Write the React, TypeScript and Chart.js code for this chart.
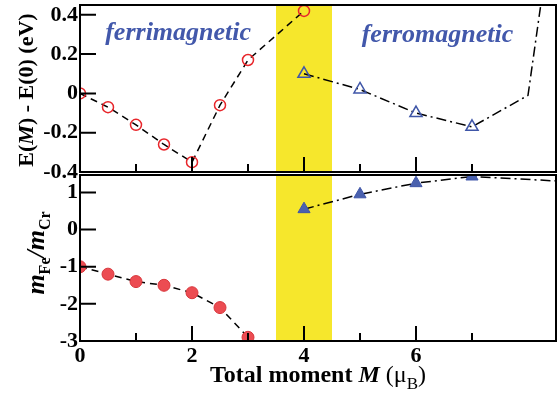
import React, { useEffect, useRef } from "react";
import { Chart, registerables } from "chart.js";

Chart.register(...registerables);

// ---- data ----
const momentFerriTop = [0, 0.5, 1, 1.5, 2, 2.5, 3, 4];
const energyFerri = [0, -0.07, -0.16, -0.26, -0.35, -0.06, 0.17, 0.42];
const momentFerroTop = [4, 5, 6, 7, 8, 8.5];
const energyFerro = [0.1, 0.02, -0.1, -0.17, -0.01, 1.0];
const ferroTopMarked = [true, true, true, true, false, false];

const momentFerriBot = [0, 0.5, 1, 1.5, 2, 2.5, 3];
const ratioFerri = [-1.0, -1.2, -1.4, -1.5, -1.7, -2.1, -2.9];
const momentFerroBot = [4, 5, 6, 7, 8.5];
const ratioFerro = [0.55, 0.95, 1.25, 1.43, 1.31];
const ferroBotMarked = [true, true, true, true, false];

const xMajorTicks = [0, 2, 4, 6];
const xMinorTicks = [1, 3, 5, 7];
const bandRange = [3.5, 4.5];
const phaseLabels = ["ferrimagnetic", "ferromagnetic"];

const FONT = '"Liberation Serif", "Times New Roman", serif';
const BAND = "#f6e72c";
const RED = "#e8262b";
const RED_FILL = "#ec4c52";
const BLUE = "#3f56a8";
const BLUE_FILL = "#4a61ae";
const TEXT_BLUE = "#4258ab";

function pts(xs: number[], ys: number[]) {
  return xs.map((x, i) => ({ x, y: ys[i] }));
}

function makeFramePlugin(cfg: {
  yMajor: (v: number) => boolean;
  labels?: { text: string; x: number; y: number }[];
}) {
  return {
    id: "frame",
    beforeDatasetsDraw(chart: any) {
      const { ctx, chartArea, scales } = chart;
      const x0 = scales.x.getPixelForValue(bandRange[0]);
      const x1 = scales.x.getPixelForValue(bandRange[1]);
      ctx.save();
      ctx.fillStyle = BAND;
      ctx.fillRect(x0, chartArea.top, x1 - x0, chartArea.bottom - chartArea.top);
      ctx.restore();
    },
    afterDatasetsDraw(chart: any) {
      const { ctx, chartArea, scales } = chart;
      const { left, right, top, bottom } = chartArea;
      ctx.save();
      ctx.strokeStyle = "#000";
      ctx.lineWidth = 2;
      ctx.beginPath();
      for (const t of scales.y.ticks) {
        const py = scales.y.getPixelForValue(t.value);
        const len = cfg.yMajor(t.value) ? 16 : 8;
        ctx.moveTo(left, py);
        ctx.lineTo(left + len, py);
      }
      for (const v of xMajorTicks) {
        const px = scales.x.getPixelForValue(v);
        ctx.moveTo(px, bottom);
        ctx.lineTo(px, bottom - 15);
      }
      for (const v of xMinorTicks) {
        const px = scales.x.getPixelForValue(v);
        ctx.moveTo(px, bottom);
        ctx.lineTo(px, bottom - 8);
      }
      ctx.stroke();
      ctx.strokeRect(left, top, right - left, bottom - top);
      if (cfg.labels) {
        ctx.fillStyle = TEXT_BLUE;
        ctx.font = `italic bold 26px ${FONT}`;
        ctx.textAlign = "left";
        ctx.textBaseline = "alphabetic";
        for (const l of cfg.labels) {
          ctx.fillText(l.text, scales.x.getPixelForValue(l.x), scales.y.getPixelForValue(l.y));
        }
      }
      ctx.restore();
    },
  };
}

const isMult = (v: number, step: number) => Math.abs(Math.round(v / step) * step - v) < 1e-6;

export default function App() {
  const topRef = useRef<HTMLCanvasElement>(null);
  const botRef = useRef<HTMLCanvasElement>(null);

  useEffect(() => {
    const xScaleBase = {
      type: "linear" as const,
      min: 0,
      max: 8.5,
      grid: { display: false, drawTicks: false },
      border: { display: false },
    };

    const topChart = new Chart(topRef.current!, {
      type: "scatter",
      data: {
        datasets: [
          {
            data: pts(momentFerriTop, energyFerri),
            showLine: true,
            borderColor: "#000",
            borderWidth: 1.5,
            borderDash: [7, 5],
            pointStyle: "circle",
            pointRadius: 5.5,
            pointBorderWidth: 1.5,
            pointBorderColor: RED,
            pointBackgroundColor: "rgba(0,0,0,0)",
          } as any,
          {
            data: pts(momentFerroTop, energyFerro),
            showLine: true,
            borderColor: "#000",
            borderWidth: 1.5,
            borderDash: [10, 4, 2, 4],
            pointStyle: "triangle",
            pointRadius: ferroTopMarked.map((m) => (m ? 7 : 0)),
            pointBorderWidth: 1.5,
            pointBorderColor: BLUE,
            pointBackgroundColor: "rgba(0,0,0,0)",
            clip: 0,
          } as any,
        ],
      },
      options: {
        animation: false,
        responsive: false,
        layout: { autoPadding: false, padding: { top: 5, bottom: 28, left: 0, right: 1 } },
        plugins: { legend: { display: false }, tooltip: { enabled: false } },
        scales: {
          x: { ...xScaleBase, display: false, ticks: { stepSize: 1 } },
          y: {
            type: "linear",
            min: -0.4,
            max: 0.45,
            grid: { display: false, drawTicks: false },
            border: { display: false },
            ticks: {
              stepSize: 0.1,
              includeBounds: false,
              padding: 2,
              color: "#000",
              font: { family: FONT, size: 22, weight: "bold" },
              callback: (v: any) => (isMult(Number(v), 0.2) ? String(Math.round(Number(v) * 10) / 10) : ""),
            },
            afterFit: (s: any) => {
              s.width = 80;
              s.paddingTop = 0;
              s.paddingBottom = 0;
            },
          },
        },
      } as any,
      plugins: [
        makeFramePlugin({
          yMajor: (v) => isMult(v, 0.2),
          labels: [
            { text: phaseLabels[0], x: 0.45, y: 0.27 },
            { text: phaseLabels[1], x: 5.03, y: 0.26 },
          ],
        }) as any,
      ],
    });

    const botChart = new Chart(botRef.current!, {
      type: "scatter",
      data: {
        datasets: [
          {
            data: pts(momentFerriBot, ratioFerri),
            showLine: true,
            borderColor: "#000",
            borderWidth: 1.5,
            borderDash: [7, 5],
            pointStyle: "circle",
            pointRadius: 6,
            pointBorderWidth: 1,
            pointBorderColor: "#d8363b",
            pointBackgroundColor: RED_FILL,
          } as any,
          {
            data: pts(momentFerroBot, ratioFerro),
            showLine: true,
            borderColor: "#000",
            borderWidth: 1.5,
            borderDash: [10, 4, 2, 4],
            pointStyle: "triangle",
            pointRadius: ferroBotMarked.map((m) => (m ? 7 : 0)),
            pointBorderWidth: 1,
            pointBorderColor: BLUE,
            pointBackgroundColor: BLUE_FILL,
          } as any,
        ],
      },
      options: {
        animation: false,
        responsive: false,
        layout: { autoPadding: false, padding: { top: 15, bottom: 0, left: 0, right: 1 } },
        plugins: { legend: { display: false }, tooltip: { enabled: false } },
        scales: {
          x: {
            ...xScaleBase,
            ticks: {
              stepSize: 1,
              includeBounds: false,
              padding: 2,
              maxRotation: 0,
              autoSkip: false,
              color: "#000",
              font: { family: FONT, size: 22, weight: "bold" },
              callback: (v: any) => (xMajorTicks.includes(Number(v)) ? String(v) : ""),
            },
            afterFit: (s: any) => {
              s.height = 53;
              s.paddingLeft = 0;
              s.paddingRight = 0;
            },
          },
          y: {
            type: "linear",
            min: -3,
            max: 1.47,
            grid: { display: false, drawTicks: false },
            border: { display: false },
            ticks: {
              stepSize: 0.5,
              includeBounds: false,
              padding: 2,
              color: "#000",
              font: { family: FONT, size: 22, weight: "bold" },
              callback: (v: any) => (isMult(Number(v), 1) ? String(Math.round(Number(v))) : ""),
            },
            afterFit: (s: any) => {
              s.width = 80;
              s.paddingTop = 0;
              s.paddingBottom = 0;
            },
          },
        },
      } as any,
      plugins: [makeFramePlugin({ yMajor: (v) => isMult(v, 1) }) as any],
    });

    return () => {
      topChart.destroy();
      botChart.destroy();
    };
  }, []);

  const rot = (cx: number, cy: number): React.CSSProperties => ({
    position: "absolute",
    left: cx,
    top: cy,
    transform: "translate(-50%, -50%) rotate(-90deg)",
    whiteSpace: "nowrap",
    fontFamily: FONT,
    color: "#000",
  });

  return (
    <div
      style={{
        position: "fixed",
        left: 0,
        top: 0,
        width: 557,
        height: 394,
        background: "#fff",
        overflow: "hidden",
      }}
    >
      <canvas ref={topRef} width={557} height={200} style={{ position: "absolute", left: 0, top: 0 }} />
      <canvas ref={botRef} width={557} height={234} style={{ position: "absolute", left: 0, top: 160 }} />

      <div style={{ ...rot(26, 90), fontSize: 22, lineHeight: "22px", fontWeight: "bold" }}>
        E(<i>M</i>) - E(0) (eV)
      </div>

      <div style={{ ...rot(37, 253), fontSize: 26, lineHeight: "26px", fontWeight: "bold" }}>
        <i>m</i>
        <span style={{ fontSize: 16, fontStyle: "normal", position: "relative", top: 6 }}>Fe</span>
        <i>/m</i>
        <span style={{ fontSize: 16, fontStyle: "normal", position: "relative", top: 6 }}>Cr</span>
      </div>

      <div
        style={{
          position: "absolute",
          left: 80,
          width: 476,
          top: 362,
          textAlign: "center",
          whiteSpace: "nowrap",
          fontFamily: FONT,
          fontSize: 24,
          lineHeight: "24px",
          fontWeight: "bold",
          color: "#000",
        }}
      >
        Total moment <i>M</i>{" "}
        <span style={{ fontWeight: "normal" }}>
          (μ<span style={{ fontSize: 17, position: "relative", top: 7 }}>B</span>)
        </span>
      </div>
    </div>
  );
}
